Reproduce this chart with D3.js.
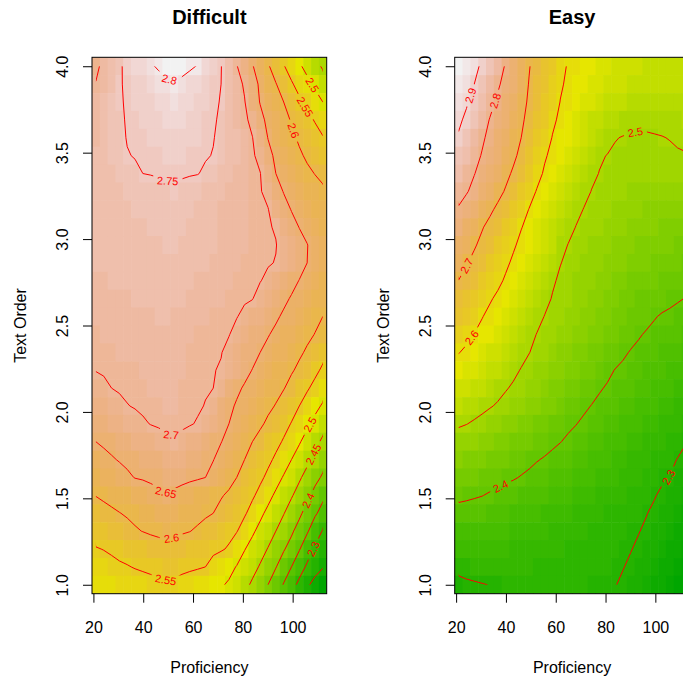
<!DOCTYPE html>
<html>
<head>
<meta charset="utf-8">
<script src="https://cdnjs.cloudflare.com/ajax/libs/d3/7.8.5/d3.min.js"></script>
<style>
body { margin: 0; background: #ffffff; }
svg text { font-family: "Liberation Sans", Arial, Helvetica, sans-serif; }
</style>
</head>
<body>
<script>
var w = 683;
var h = 682;

// grid the surfaces were evaluated on (30 x 30)
var proficiency = [21.00, 24.14, 27.28, 30.42, 33.57, 36.71, 39.85, 42.99, 46.13, 49.27,
                   52.41, 55.56, 58.70, 61.84, 64.98, 68.12, 71.26, 74.40, 77.55, 80.69,
                   83.83, 86.97, 90.11, 93.25, 96.39, 99.54, 102.68, 105.82, 108.96, 112.10];
var textOrder = [1.000, 1.103, 1.207, 1.310, 1.414, 1.517, 1.621, 1.724, 1.828, 1.931,
                 2.034, 2.138, 2.241, 2.345, 2.448, 2.552, 2.655, 2.759, 2.862, 2.966,
                 3.069, 3.172, 3.276, 3.379, 3.483, 3.586, 3.690, 3.793, 3.897, 4.000];

// fitted values, one row per text order, from 4.0 (top row) down to 1.0
var difficultZ = [
  [2.690,2.712,2.728,2.745,2.759,2.771,2.783,2.795,2.805,2.812,2.820,2.813,2.806,2.798,2.783,2.767,2.751,2.727,2.702,2.678,2.653,2.629,2.605,2.579,2.553,2.530,2.507,2.485,2.463,2.445],
  [2.702,2.717,2.731,2.747,2.755,2.762,2.770,2.777,2.784,2.792,2.799,2.791,2.783,2.774,2.766,2.758,2.750,2.732,2.714,2.695,2.668,2.643,2.622,2.602,2.579,2.555,2.534,2.513,2.492,2.470],
  [2.710,2.722,2.734,2.747,2.753,2.759,2.765,2.770,2.776,2.781,2.787,2.781,2.774,2.768,2.762,2.756,2.748,2.733,2.717,2.702,2.672,2.648,2.632,2.616,2.600,2.579,2.558,2.538,2.519,2.500],
  [2.715,2.725,2.735,2.746,2.752,2.756,2.761,2.765,2.769,2.774,2.778,2.773,2.768,2.763,2.758,2.753,2.746,2.733,2.721,2.708,2.689,2.661,2.641,2.626,2.612,2.597,2.579,2.562,2.547,2.535],
  [2.719,2.727,2.736,2.745,2.751,2.754,2.757,2.760,2.764,2.767,2.770,2.766,2.763,2.759,2.755,2.751,2.744,2.733,2.722,2.712,2.701,2.675,2.649,2.635,2.622,2.608,2.594,2.580,2.566,2.552],
  [2.722,2.729,2.735,2.742,2.749,2.751,2.754,2.756,2.758,2.760,2.762,2.760,2.757,2.755,2.752,2.749,2.740,2.732,2.723,2.714,2.705,2.689,2.661,2.643,2.631,2.618,2.606,2.594,2.582,2.570],
  [2.724,2.728,2.733,2.737,2.741,2.746,2.750,2.751,2.752,2.753,2.754,2.753,2.752,2.751,2.746,2.740,2.733,2.727,2.720,2.714,2.707,2.701,2.676,2.650,2.640,2.629,2.619,2.608,2.599,2.593],
  [2.725,2.727,2.729,2.732,2.734,2.736,2.738,2.740,2.743,2.745,2.747,2.743,2.739,2.735,2.731,2.727,2.723,2.719,2.715,2.711,2.707,2.702,2.691,2.668,2.648,2.640,2.631,2.622,2.614,2.605],
  [2.726,2.728,2.729,2.731,2.732,2.734,2.736,2.737,2.739,2.740,2.742,2.738,2.735,2.731,2.728,2.724,2.721,2.718,2.714,2.711,2.707,2.704,2.701,2.683,2.665,2.648,2.640,2.632,2.623,2.615],
  [2.726,2.727,2.728,2.730,2.731,2.732,2.733,2.734,2.735,2.737,2.738,2.735,2.732,2.729,2.726,2.723,2.720,2.717,2.714,2.711,2.708,2.705,2.702,2.698,2.681,2.664,2.649,2.640,2.632,2.623],
  [2.725,2.726,2.727,2.728,2.729,2.730,2.731,2.732,2.733,2.734,2.735,2.732,2.730,2.727,2.724,2.722,2.719,2.716,2.714,2.711,2.708,2.706,2.703,2.701,2.690,2.677,2.664,2.651,2.639,2.628],
  [2.723,2.724,2.725,2.726,2.727,2.728,2.728,2.729,2.730,2.731,2.732,2.729,2.727,2.724,2.722,2.719,2.717,2.714,2.712,2.709,2.707,2.704,2.702,2.699,2.686,2.673,2.662,2.650,2.639,2.627],
  [2.720,2.721,2.722,2.723,2.724,2.724,2.725,2.726,2.727,2.728,2.729,2.726,2.724,2.721,2.719,2.716,2.714,2.711,2.709,2.706,2.704,2.701,2.694,2.683,2.672,2.660,2.649,2.640,2.630,2.621],
  [2.717,2.718,2.719,2.720,2.721,2.722,2.722,2.723,2.724,2.725,2.726,2.723,2.721,2.718,2.716,2.713,2.710,2.708,2.705,2.703,2.701,2.689,2.679,2.668,2.657,2.647,2.639,2.630,2.621,2.612],
  [2.713,2.714,2.715,2.716,2.717,2.719,2.720,2.721,2.722,2.723,2.721,2.718,2.716,2.713,2.711,2.708,2.706,2.703,2.701,2.694,2.684,2.675,2.665,2.655,2.645,2.636,2.627,2.618,2.609,2.600],
  [2.709,2.710,2.712,2.713,2.715,2.716,2.717,2.719,2.720,2.718,2.716,2.713,2.711,2.709,2.707,2.705,2.703,2.701,2.692,2.682,2.672,2.662,2.652,2.643,2.634,2.626,2.617,2.608,2.599,2.590],
  [2.705,2.707,2.708,2.710,2.711,2.713,2.714,2.716,2.717,2.716,2.714,2.711,2.709,2.707,2.705,2.703,2.701,2.693,2.683,2.672,2.661,2.650,2.641,2.632,2.624,2.615,2.606,2.595,2.579,2.563],
  [2.701,2.703,2.704,2.706,2.707,2.709,2.710,2.712,2.713,2.713,2.712,2.710,2.708,2.706,2.703,2.701,2.698,2.685,2.673,2.661,2.649,2.640,2.631,2.622,2.613,2.604,2.592,2.576,2.560,2.543],
  [2.688,2.694,2.700,2.703,2.705,2.707,2.709,2.711,2.712,2.712,2.711,2.709,2.707,2.705,2.702,2.700,2.686,2.671,2.657,2.646,2.637,2.628,2.619,2.611,2.602,2.587,2.571,2.555,2.538,2.520],
  [2.675,2.681,2.687,2.693,2.699,2.702,2.705,2.707,2.709,2.710,2.710,2.708,2.706,2.703,2.699,2.685,2.672,2.658,2.646,2.637,2.627,2.618,2.608,2.598,2.582,2.566,2.550,2.531,2.512,2.495],
  [2.663,2.668,2.674,2.679,2.685,2.690,2.696,2.701,2.704,2.707,2.707,2.705,2.702,2.698,2.686,2.674,2.662,2.650,2.639,2.628,2.617,2.606,2.593,2.578,2.563,2.548,2.528,2.508,2.488,2.467],
  [2.650,2.655,2.659,2.664,2.668,2.673,2.677,2.682,2.686,2.692,2.697,2.691,2.684,2.676,2.668,2.659,2.651,2.639,2.626,2.613,2.600,2.587,2.574,2.561,2.546,2.525,2.504,2.483,2.462,2.442],
  [2.634,2.641,2.647,2.652,2.656,2.660,2.664,2.668,2.672,2.676,2.680,2.674,2.668,2.662,2.656,2.651,2.638,2.626,2.613,2.600,2.586,2.573,2.559,2.543,2.522,2.500,2.480,2.460,2.439,2.417],
  [2.618,2.625,2.631,2.638,2.645,2.651,2.653,2.656,2.659,2.661,2.664,2.661,2.657,2.654,2.650,2.639,2.626,2.613,2.600,2.586,2.572,2.558,2.541,2.518,2.496,2.476,2.456,2.435,2.413,2.394],
  [2.601,2.606,2.611,2.617,2.622,2.627,2.632,2.638,2.643,2.648,2.642,2.635,2.629,2.622,2.616,2.610,2.603,2.594,2.581,2.569,2.556,2.538,2.514,2.492,2.473,2.454,2.433,2.411,2.386,2.359],
  [2.584,2.589,2.594,2.599,2.604,2.609,2.614,2.620,2.625,2.630,2.629,2.623,2.617,2.612,2.606,2.600,2.589,2.577,2.566,2.555,2.535,2.510,2.489,2.470,2.452,2.430,2.409,2.383,2.356,2.335],
  [2.565,2.571,2.577,2.583,2.589,2.596,2.601,2.606,2.610,2.614,2.610,2.605,2.601,2.594,2.585,2.577,2.569,2.560,2.552,2.531,2.507,2.487,2.469,2.450,2.428,2.407,2.382,2.355,2.325,2.297],
  [2.548,2.551,2.555,2.560,2.564,2.568,2.572,2.577,2.581,2.585,2.580,2.576,2.572,2.567,2.563,2.558,2.554,2.546,2.524,2.502,2.484,2.466,2.448,2.426,2.404,2.382,2.353,2.322,2.294,2.275],
  [2.533,2.537,2.541,2.545,2.548,2.552,2.555,2.558,2.561,2.564,2.563,2.560,2.557,2.554,2.550,2.536,2.523,2.512,2.498,2.481,2.464,2.446,2.424,2.402,2.376,2.350,2.321,2.293,2.273,2.254],
  [2.518,2.521,2.524,2.527,2.530,2.533,2.536,2.539,2.542,2.545,2.543,2.536,2.530,2.524,2.517,2.511,2.504,2.495,2.478,2.462,2.443,2.422,2.400,2.374,2.347,2.318,2.288,2.259,2.231,2.205]
];

var easyZ = [
  [2.960,2.938,2.916,2.890,2.859,2.827,2.795,2.765,2.734,2.703,2.680,2.658,2.636,2.613,2.596,2.589,2.581,2.573,2.565,2.560,2.555,2.550,2.545,2.543,2.541,2.539,2.537,2.536,2.536,2.535],
  [2.945,2.923,2.900,2.870,2.839,2.809,2.781,2.753,2.725,2.698,2.674,2.651,2.628,2.605,2.593,2.585,2.577,2.569,2.561,2.554,2.548,2.543,2.538,2.535,2.533,2.532,2.531,2.531,2.530,2.530],
  [2.930,2.907,2.879,2.848,2.818,2.790,2.766,2.741,2.717,2.693,2.669,2.645,2.621,2.599,2.589,2.579,2.569,2.559,2.550,2.542,2.535,2.528,2.522,2.518,2.517,2.518,2.519,2.521,2.522,2.524],
  [2.911,2.888,2.857,2.826,2.797,2.775,2.753,2.731,2.709,2.685,2.659,2.633,2.608,2.592,2.579,2.566,2.553,2.541,2.530,2.521,2.514,2.509,2.506,2.505,2.506,2.507,2.509,2.511,2.513,2.516],
  [2.894,2.866,2.837,2.809,2.785,2.764,2.743,2.721,2.700,2.674,2.647,2.621,2.598,2.586,2.574,2.562,2.549,2.537,2.525,2.513,2.501,2.499,2.498,2.497,2.497,2.498,2.499,2.501,2.504,2.507],
  [2.868,2.843,2.819,2.796,2.774,2.753,2.732,2.711,2.686,2.659,2.632,2.605,2.589,2.575,2.561,2.547,2.532,2.518,2.504,2.499,2.497,2.495,2.493,2.492,2.492,2.493,2.494,2.495,2.497,2.498],
  [2.844,2.823,2.802,2.781,2.759,2.737,2.715,2.692,2.667,2.641,2.615,2.594,2.580,2.565,2.551,2.536,2.522,2.507,2.499,2.496,2.493,2.490,2.488,2.486,2.486,2.486,2.486,2.486,2.485,2.485],
  [2.820,2.805,2.784,2.762,2.740,2.718,2.695,2.670,2.645,2.620,2.597,2.583,2.568,2.554,2.539,2.525,2.510,2.499,2.495,2.491,2.488,2.484,2.480,2.477,2.476,2.475,2.474,2.474,2.473,2.472],
  [2.795,2.774,2.753,2.732,2.711,2.689,2.666,2.643,2.620,2.599,2.584,2.569,2.554,2.540,2.525,2.510,2.499,2.495,2.491,2.486,2.482,2.478,2.473,2.469,2.468,2.466,2.465,2.463,2.462,2.460],
  [2.771,2.749,2.727,2.704,2.684,2.663,2.643,2.622,2.602,2.587,2.572,2.557,2.542,2.527,2.512,2.499,2.494,2.489,2.484,2.480,2.475,2.470,2.465,2.460,2.458,2.456,2.453,2.451,2.449,2.447],
  [2.748,2.727,2.706,2.686,2.666,2.646,2.626,2.606,2.589,2.574,2.558,2.543,2.528,2.512,2.499,2.494,2.488,2.483,2.478,2.472,2.467,2.462,2.456,2.451,2.448,2.446,2.443,2.440,2.438,2.435],
  [2.724,2.704,2.685,2.666,2.647,2.628,2.609,2.592,2.577,2.562,2.546,2.531,2.515,2.501,2.494,2.488,2.483,2.477,2.471,2.465,2.459,2.454,2.448,2.442,2.439,2.436,2.432,2.429,2.426,2.423],
  [2.699,2.682,2.664,2.646,2.629,2.611,2.594,2.579,2.564,2.549,2.534,2.519,2.504,2.495,2.489,2.482,2.476,2.470,2.463,2.457,2.451,2.444,2.438,2.432,2.428,2.425,2.421,2.418,2.414,2.411],
  [2.676,2.658,2.641,2.623,2.605,2.591,2.577,2.564,2.550,2.537,2.523,2.509,2.498,2.491,2.484,2.477,2.470,2.464,2.457,2.450,2.443,2.436,2.430,2.423,2.419,2.415,2.411,2.407,2.403,2.399],
  [2.651,2.635,2.618,2.602,2.588,2.575,2.562,2.549,2.536,2.523,2.510,2.499,2.492,2.485,2.478,2.471,2.464,2.457,2.450,2.443,2.437,2.430,2.423,2.416,2.409,2.402,2.397,2.394,2.390,2.386],
  [2.627,2.613,2.599,2.586,2.573,2.561,2.548,2.535,2.523,2.510,2.499,2.491,2.484,2.476,2.469,2.462,2.454,2.447,2.440,2.432,2.425,2.418,2.410,2.403,2.397,2.393,2.388,2.383,2.379,2.374],
  [2.602,2.591,2.580,2.568,2.557,2.546,2.534,2.523,2.511,2.501,2.492,2.484,2.476,2.468,2.460,2.452,2.444,2.437,2.429,2.421,2.413,2.405,2.398,2.393,2.388,2.383,2.377,2.372,2.367,2.362],
  [2.578,2.568,2.558,2.548,2.538,2.528,2.518,2.508,2.498,2.490,2.482,2.474,2.465,2.457,2.449,2.440,2.432,2.424,2.416,2.407,2.399,2.394,2.388,2.383,2.377,2.372,2.366,2.361,2.355,2.350],
  [2.554,2.546,2.537,2.529,2.520,2.512,2.503,2.495,2.486,2.478,2.470,2.461,2.453,2.445,2.436,2.428,2.420,2.412,2.403,2.397,2.391,2.385,2.379,2.374,2.368,2.362,2.356,2.350,2.344,2.338],
  [2.529,2.523,2.516,2.510,2.503,2.496,2.488,2.480,2.472,2.464,2.455,2.447,2.439,2.431,2.423,2.415,2.406,2.399,2.393,2.387,2.381,2.375,2.368,2.362,2.356,2.350,2.344,2.338,2.332,2.326],
  [2.505,2.501,2.495,2.488,2.480,2.473,2.466,2.458,2.451,2.444,2.436,2.429,2.422,2.415,2.407,2.401,2.394,2.388,2.382,2.376,2.369,2.363,2.357,2.351,2.345,2.339,2.333,2.326,2.320,2.314],
  [2.481,2.475,2.469,2.463,2.457,2.450,2.444,2.438,2.432,2.426,2.420,2.413,2.407,2.401,2.394,2.388,2.382,2.376,2.370,2.363,2.357,2.351,2.345,2.339,2.332,2.326,2.320,2.314,2.308,2.302],
  [2.457,2.452,2.446,2.441,2.435,2.430,2.424,2.419,2.413,2.408,2.402,2.397,2.391,2.385,2.380,2.374,2.368,2.363,2.357,2.351,2.345,2.340,2.334,2.328,2.323,2.317,2.311,2.306,2.299,2.291],
  [2.433,2.429,2.424,2.420,2.416,2.411,2.407,2.403,2.398,2.393,2.387,2.382,2.377,2.372,2.367,2.361,2.356,2.351,2.346,2.341,2.335,2.330,2.325,2.320,2.315,2.309,2.304,2.299,2.289,2.280],
  [2.410,2.407,2.404,2.401,2.396,2.392,2.387,2.383,2.378,2.374,2.369,2.365,2.360,2.356,2.351,2.347,2.342,2.338,2.333,2.329,2.324,2.320,2.315,2.311,2.306,2.302,2.295,2.286,2.278,2.269],
  [2.385,2.384,2.382,2.379,2.376,2.372,2.368,2.364,2.360,2.356,2.352,2.348,2.344,2.340,2.336,2.333,2.329,2.326,2.322,2.319,2.315,2.312,2.308,2.305,2.301,2.295,2.286,2.276,2.267,2.258],
  [2.361,2.362,2.361,2.359,2.357,2.354,2.351,2.348,2.345,2.342,2.339,2.336,2.333,2.330,2.328,2.325,2.322,2.319,2.316,2.313,2.310,2.307,2.304,2.301,2.296,2.286,2.277,2.267,2.257,2.247],
  [2.337,2.340,2.341,2.341,2.340,2.338,2.336,2.334,2.332,2.330,2.328,2.325,2.323,2.321,2.319,2.317,2.314,2.312,2.310,2.308,2.305,2.303,2.301,2.296,2.286,2.276,2.266,2.256,2.246,2.236],
  [2.312,2.317,2.320,2.322,2.323,2.323,2.323,2.322,2.321,2.320,2.318,2.317,2.315,2.314,2.312,2.311,2.309,2.308,2.306,2.305,2.303,2.301,2.296,2.286,2.276,2.266,2.256,2.245,2.235,2.225],
  [2.288,2.292,2.295,2.298,2.301,2.303,2.305,2.307,2.308,2.309,2.309,2.309,2.308,2.308,2.307,2.306,2.305,2.304,2.303,2.302,2.301,2.296,2.286,2.276,2.266,2.256,2.246,2.235,2.225,2.215]
];

var difficultLevels = [2.25, 2.3, 2.35, 2.4, 2.45, 2.5, 2.55, 2.6, 2.65, 2.7, 2.75, 2.8];
var easyLevels = [2.3, 2.4, 2.5, 2.6, 2.7, 2.8, 2.9];

// contour labels: level, proficiency, text order
var difficultLabels = [
  [2.8, 50.8, 3.93], [2.75, 49.6, 3.33], [2.7, 50.8, 1.858], [2.65, 49.2, 1.537],
  [2.6, 51.4, 1.268], [2.55, 49.2, 1.037], [2.5, 107.7, 3.89], [2.55, 105.0, 3.765],
  [2.6, 100.8, 3.63], [2.5, 105.7, 1.937], [2.45, 107.0, 1.763], [2.4, 104.6, 1.50],
  [2.3, 107.7, 1.211]
];
var easyLabels = [
  [2.9, 25.6, 3.832], [2.8, 35.6, 3.80], [2.7, 24.3, 2.845], [2.6, 26.3, 2.43],
  [2.5, 91.7, 3.63], [2.4, 38.3, 1.558], [2.3, 105.1, 1.625]
];

var xTicks = [20, 40, 60, 80, 100];
var yTicks = [1.0, 1.5, 2.0, 2.5, 3.0, 3.5, 4.0];

var n = proficiency.length;
var pw = 234.7;
var ph = 536.4;
var panelTop = 57.3;
var nCol = 50;

function hsvHex(hh, s, v) {
  var i = Math.floor(hh * 6 + 1e-9), f = Math.max(0, hh * 6 - i);
  var p = v * (1 - s), q = v * (1 - f * s), t = v * (1 - (1 - f) * s);
  var r, g, b;
  switch (((i % 6) + 6) % 6) {
    case 0: r = v; g = t; b = p; break;
    case 1: r = q; g = v; b = p; break;
    case 2: r = p; g = v; b = t; break;
    case 3: r = p; g = q; b = v; break;
    case 4: r = t; g = p; b = v; break;
    default: r = v; g = p; b = q;
  }
  return d3.rgb(r * 255, g * 255, b * 255).formatHex();
}

// same ramp as R terrain.colors()
function terrainColors(k) {
  var half = Math.floor(k / 2), out = [];
  for (var i = 0; i < half; i++) {
    var t = i / (half - 1);
    out.push(hsvHex(4/12 - 2/12 * t, 1, 0.65 + 0.25 * t));
  }
  var rest = k - half;
  for (var j = 1; j <= rest; j++) {
    var u = j / rest;
    out.push(hsvHex(2/12 - 2/12 * u, 1 - u, 0.9 + 0.05 * u));
  }
  return out;
}
var pal = terrainColors(nCol);

var svg = d3.select("body").append("svg")
  .attr("width", w)
  .attr("height", h);

function drawPanel(left, title, z, levels, labels, id) {
  var g = svg.append("g").attr("transform", "translate(" + left + "," + panelTop + ")");
  var stepX = (proficiency[n - 1] - proficiency[0]) / (n - 1);
  var stepY = (textOrder[n - 1] - textOrder[0]) / (n - 1);
  var x = d3.scaleLinear()
    .domain([proficiency[0] - stepX / 2, proficiency[n - 1] + stepX / 2])
    .range([0, pw]);
  var y = d3.scaleLinear()
    .domain([textOrder[0] - stepY / 2, textOrder[n - 1] + stepY / 2])
    .range([ph, 0]);

  var flat = [].concat.apply([], z);
  var zmin = d3.min(flat), zmax = d3.max(flat);
  function colorOf(v) {
    var k = Math.ceil((v - zmin) / (zmax - zmin) * nCol) - 1;
    return pal[Math.max(0, Math.min(nCol - 1, k))];
  }

  var cells = [];
  z.forEach(function(row, k) {
    row.forEach(function(v, i) { cells.push({ i: i, k: k, v: v }); });
  });

  // cells overlap by a fraction of a pixel so no seams show
  g.append("g")
    .selectAll("rect")
    .data(cells)
    .join("rect")
      .attr("x", function(d) { return x(proficiency[d.i] - stepX / 2); })
      .attr("y", function(d) { return y(textOrder[n - 1 - d.k] + stepY / 2); })
      .attr("width", function(d) {
        return x(proficiency[d.i] + stepX / 2) - x(proficiency[d.i] - stepX / 2) + (d.i < n - 1 ? 0.6 : 0);
      })
      .attr("height", function(d) {
        return y(textOrder[n - 1 - d.k] - stepY / 2) - y(textOrder[n - 1 - d.k] + stepY / 2) + (d.k < n - 1 ? 0.6 : 0);
      })
      .attr("fill", function(d) { return colorOf(d.v); });

  // grid index space -> pixels
  var gx = d3.scaleLinear().domain([0.5, n - 0.5]).range([x(proficiency[0]), x(proficiency[n - 1])]);
  var gy = d3.scaleLinear().domain([0.5, n - 0.5]).range([y(textOrder[n - 1]), y(textOrder[0])]);

  var contours = d3.contours().size([n, n]).thresholds(levels)(flat);
  var path = d3.geoPath(d3.geoTransform({
    point: function(u, v) { this.stream.point(gx(u), gy(v)); }
  }));

  var defs = g.append("defs");
  defs.append("clipPath").attr("id", "clip" + id)
    .append("rect")
      .attr("x", gx(0.5)).attr("y", gy(0.5))
      .attr("width", gx(n - 0.5) - gx(0.5))
      .attr("height", gy(n - 0.5) - gy(0.5));
  var mask = defs.append("mask").attr("id", "mask" + id)
    .attr("maskUnits", "userSpaceOnUse")
    .attr("x", -20).attr("y", -20).attr("width", pw + 40).attr("height", ph + 40);
  mask.append("rect")
    .attr("x", -20).attr("y", -20).attr("width", pw + 40).attr("height", ph + 40)
    .attr("fill", "white");

  g.append("g").attr("clip-path", "url(#clip" + id + ")")
    .append("g").attr("mask", "url(#mask" + id + ")")
    .selectAll("path")
    .data(contours)
    .join("path")
      .attr("d", path)
      .attr("fill", "none")
      .attr("stroke", "#ff0000")
      .attr("stroke-width", 1);

  // labels sit on the nearest piece of their contour, turned along it
  var fs = 11;
  labels.forEach(function(lb) {
    var level = lb[0], px = x(lb[1]), py = y(lb[2]);
    var c = contours.filter(function(d) { return Math.abs(d.value - level) < 1e-9; })[0];
    var best = { d: Infinity, x: px, y: py, dx: 1, dy: 0 };
    c.coordinates.forEach(function(poly) {
      poly.forEach(function(ring) {
        for (var s = 0; s < ring.length - 1; s++) {
          var a = ring[s], b = ring[s + 1];
          if ((a[0] <= 0.5 && b[0] <= 0.5) || (a[0] >= n - 0.5 && b[0] >= n - 0.5) ||
              (a[1] <= 0.5 && b[1] <= 0.5) || (a[1] >= n - 0.5 && b[1] >= n - 0.5)) continue;
          var ax = gx(a[0]), ay = gy(a[1]), bx = gx(b[0]), by = gy(b[1]);
          var vx = bx - ax, vy = by - ay, L = vx * vx + vy * vy;
          var t = L > 0 ? Math.max(0, Math.min(1, ((px - ax) * vx + (py - ay) * vy) / L)) : 0;
          var qx = ax + t * vx, qy = ay + t * vy;
          var d = (qx - px) * (qx - px) + (qy - py) * (qy - py);
          if (d < best.d) {
            var p0 = ring[Math.max(0, s - 1)], p1 = ring[Math.min(ring.length - 1, s + 2)];
            best = { d: d, x: qx, y: qy, dx: gx(p1[0]) - gx(p0[0]), dy: gy(p1[1]) - gy(p0[1]) };
          }
        }
      });
    });
    var ang = Math.atan2(best.dy, best.dx) * 180 / Math.PI;
    if (ang > 90) ang -= 180;
    if (ang < -90) ang += 180;
    var tr = "translate(" + best.x + "," + best.y + ") rotate(" + ang + ")";
    var txt = g.append("text")
      .attr("transform", tr)
      .attr("text-anchor", "middle")
      .attr("dy", "0.36em")
      .attr("font-size", fs)
      .attr("fill", "#ff0000")
      .text(String(level));
    var tw = txt.node().getComputedTextLength();
    mask.append("rect")
      .attr("transform", tr)
      .attr("x", -tw / 2 - 4).attr("y", -fs * 0.6)
      .attr("width", tw + 8).attr("height", fs * 1.2)
      .attr("fill", "black");
  });

  g.append("rect")
    .attr("width", pw).attr("height", ph)
    .attr("fill", "none").attr("stroke", "#000").attr("stroke-width", 1);

  var ax = g.append("g")
    .attr("transform", "translate(0," + ph + ")")
    .call(d3.axisBottom(x).tickValues(xTicks).tickSize(9).tickSizeOuter(0));
  ax.select(".domain").remove();
  ax.attr("font-size", 16);
  ax.selectAll("text").attr("y", 39).attr("dy", 0).attr("fill", "#000");

  var ay = g.append("g")
    .call(d3.axisLeft(y).tickValues(yTicks).tickFormat(d3.format(".1f")).tickSize(9).tickSizeOuter(0));
  ay.select(".domain").remove();
  ay.attr("font-size", 16);
  ay.selectAll("text")
    .attr("transform", "rotate(-90)")
    .attr("x", 0).attr("y", -24).attr("dy", 0)
    .attr("text-anchor", "middle")
    .attr("fill", "#000");

  g.append("text")
    .attr("x", pw / 2).attr("y", 24 - panelTop)
    .attr("text-anchor", "middle")
    .attr("font-size", 20).attr("font-weight", "bold")
    .text(title);

  g.append("text")
    .attr("x", pw / 2).attr("y", ph + 79)
    .attr("text-anchor", "middle")
    .attr("font-size", 16)
    .text("Proficiency");

  g.append("text")
    .attr("transform", "translate(-66," + (ph / 2) + ") rotate(-90)")
    .attr("text-anchor", "middle")
    .attr("font-size", 16)
    .text("Text Order");
}

drawPanel(92, "Difficult", difficultZ, difficultLevels, difficultLabels, "d");
drawPanel(454.7, "Easy", easyZ, easyLevels, easyLabels, "e");
</script>
</body>
</html>
